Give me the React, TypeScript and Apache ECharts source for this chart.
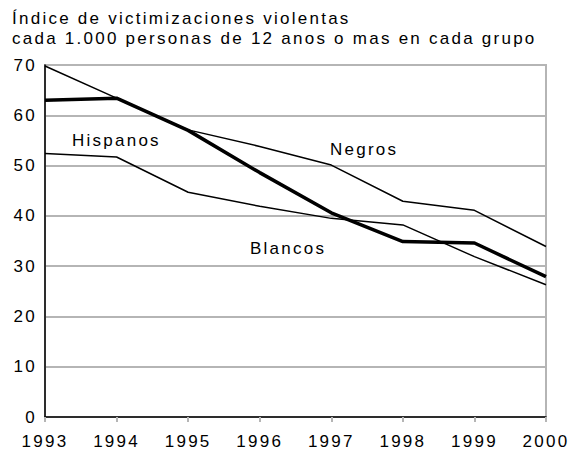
import React, { useEffect, useRef } from "react";
import * as echarts from "echarts";

const years = ["1993", "1994", "1995", "1996", "1997", "1998", "1999", "2000"];
const negros = [69.8, 63.4, 57.1, 53.8, 50.1, 42.9, 41.1, 33.9];
const blancos = [63.0, 63.4, 57.0, 48.6, 40.6, 34.9, 34.6, 27.9];
const hispanos = [52.4, 51.7, 44.7, 41.9, 39.5, 38.2, 31.9, 26.3];
const titleLines = [
  "Índice de victimizaciones violentas",
  "cada 1.000 personas de 12 anos o mas en cada grupo",
];
const seriesLabels = { negros: "Negros", blancos: "Blancos", hispanos: "Hispanos" };

const FONT = "'Liberation Sans', Arial, sans-serif";
const FS = 17;

export default function App() {
  const ref = useRef<HTMLDivElement>(null);
  useEffect(() => {
    if (!ref.current) return;
    const chart = echarts.init(ref.current, undefined, { renderer: "svg" });
    const lineSeries = (name: string, data: number[], width: number) => ({
      name,
      type: "line",
      data,
      symbol: "none",
      lineStyle: { color: "#000", width },
      z: width > 2 ? 5 : 3,
    });
    const label = (text: string, left: number, top: number) => ({
      type: "text",
      left,
      top,
      style: { text, fontSize: FS, fontFamily: FONT, fill: "#000" },
    });
    chart.setOption({
      animation: false,
      backgroundColor: "#fff",
      textStyle: { fontFamily: FONT },
      grid: {
        left: 45,
        right: 25,
        top: 65,
        bottom: 32,
        show: true,
        borderColor: "#b5b5b5",
        borderWidth: 2,
      },
      xAxis: {
        type: "category",
        data: years,
        boundaryGap: false,
        axisLine: { lineStyle: { color: "#000", width: 1.5 } },
        axisTick: { show: true, length: 5, lineStyle: { color: "#b5b5b5", width: 2 } },
        axisLabel: { color: "#000", fontSize: FS, fontFamily: FONT, margin: 16, hideOverlap: false },
        splitLine: { show: false },
      },
      yAxis: {
        type: "value",
        min: 0,
        max: 70,
        interval: 10,
        axisLine: { show: true, lineStyle: { color: "#000", width: 1.5 } },
        axisTick: { show: false },
        axisLabel: { color: "#000", fontSize: FS, fontFamily: FONT, margin: 8 },
        splitLine: { show: true, lineStyle: { color: "#b5b5b5", width: 2 } },
      },
      series: [
        lineSeries(seriesLabels.negros, negros, 1.5),
        lineSeries(seriesLabels.hispanos, hispanos, 1.5),
        lineSeries(seriesLabels.blancos, blancos, 3.5),
      ],
      graphic: [
        label(titleLines[0], 12, 10),
        label(titleLines[1], 12, 30),
        label(seriesLabels.hispanos, 72, 132),
        label(seriesLabels.negros, 330, 141),
        label(seriesLabels.blancos, 250, 240),
      ],
    });
    return () => chart.dispose();
  }, []);
  return (
    <>
      <style>{"#root svg text { letter-spacing: 2.25px; }"}</style>
      <div
        ref={ref}
        style={{ position: "absolute", left: 0, top: 0, width: 571, height: 450 }}
      />
    </>
  );
}
